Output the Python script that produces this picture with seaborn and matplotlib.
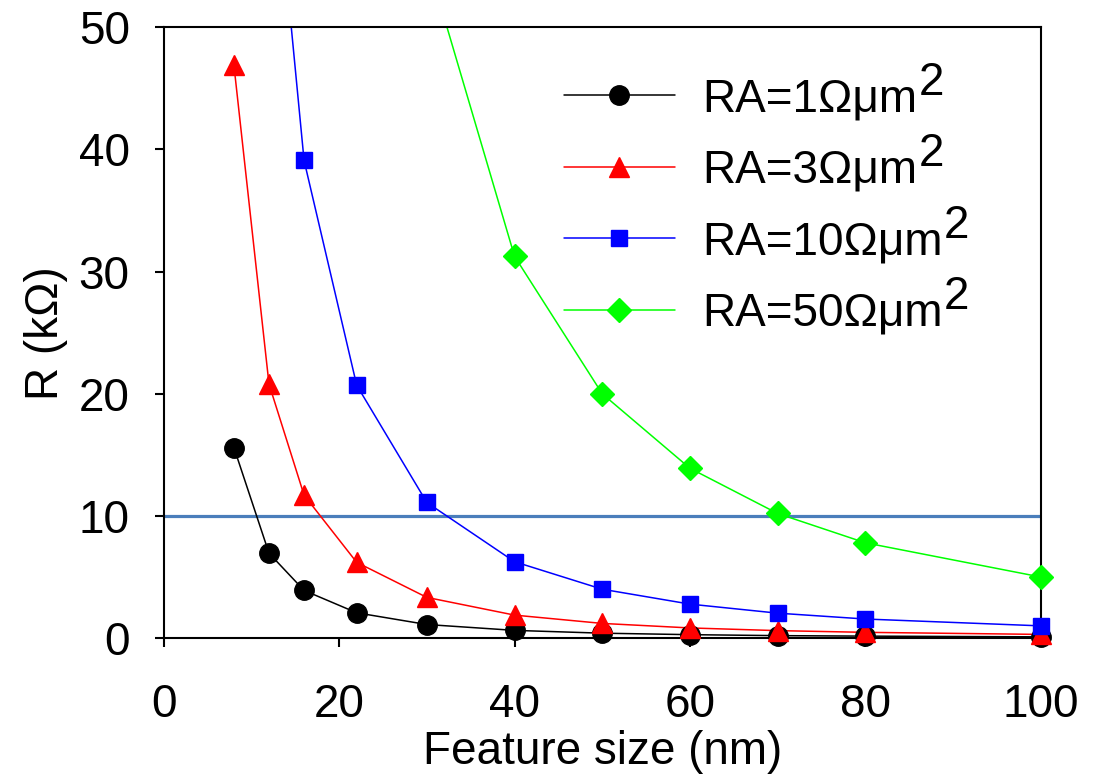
import numpy as np
import pandas as pd
import seaborn as sns
import matplotlib.pyplot as plt
from matplotlib.lines import Line2D
from matplotlib.transforms import offset_copy

# feature size (nm) and resistance (kOhm)
size_nm = [8, 12, 16, 22, 30, 40, 50, 60, 70, 80, 100]
r_ra1 = [15.6, 6.95, 3.9, 2.07, 1.11, 0.63, 0.40, 0.28, 0.20, 0.16, 0.10]
r_ra3 = [46.9, 20.8, 11.7, 6.2, 3.33, 1.88, 1.2, 0.83, 0.61, 0.47, 0.30]
r_ra10 = [156, 69, 39.1, 20.7, 11.1, 6.25, 4.0, 2.78, 2.04, 1.56, 1.0]
r_ra50 = [781, 347, 195, 103, 55.6, 31.25, 20.0, 13.9, 10.2, 7.8, 5.0]
labels = ["RA=1\u03a9\u03bcm", "RA=3\u03a9\u03bcm", "RA=10\u03a9\u03bcm", "RA=50\u03a9\u03bcm"]
threshold = 10

colors = ["#000000", "#ff0000", "#0000ff", "#00ff00"]
markers = ["o", "^", "s", "D"]
msizes = [14, 14, 12, 12.5]

rows = []
for lab, vals in zip(labels, [r_ra1, r_ra3, r_ra10, r_ra50]):
    for x, y in zip(size_nm, vals):
        rows.append({"size": x, "R": y, "RA": lab})
df = pd.DataFrame(rows)

sns.set_style("ticks")
plt.rcParams["font.family"] = ["Liberation Sans", "DejaVu Sans"]
plt.rcParams["text.color"] = "black"
plt.rcParams["axes.labelcolor"] = "black"

fig = plt.figure(figsize=(10.99, 7.81), dpi=100)
ax = fig.add_axes([0.149, 0.183, 0.798, 0.782])

ax.axhline(threshold, color="#4a7ebb", lw=2.3, zorder=1)

sns.lineplot(data=df, x="size", y="R", hue="RA", palette=colors,
             lw=1.1, legend=False, ax=ax, zorder=2)

# markers are not clipped at the frame in the original
for lab, c, m, ms in zip(labels, colors, markers, msizes):
    sub = df[(df["RA"] == lab) & (df["R"] <= 50)]
    ax.plot(sub["size"], sub["R"], ls="none", marker=m, color=c,
            markersize=ms, clip_on=False, zorder=3)

ax.set_xlim(0, 100)
ax.set_ylim(0, 50)
ax.set_xticks([0, 20, 40, 60, 80, 100])
ax.set_yticks([0, 10, 20, 30, 40, 50])
for s in ax.spines.values():
    s.set_linewidth(1.5)
    s.set_color("black")
ax.tick_params(axis="both", direction="out", length=6.5, width=1.5,
               labelsize=33, colors="black")
ax.tick_params(axis="x", pad=26)
ax.tick_params(axis="y", pad=18)
ax.set_xlabel("Feature size (nm)", fontsize=33, labelpad=2)
ax.set_ylabel("R (k\u03a9)", fontsize=33, labelpad=8)

handles = [Line2D([], [], color=c, lw=1.1, marker=m, markersize=ms)
           for c, m, ms in zip(colors, markers, msizes)]
leg = ax.legend(handles, labels, loc="upper left", bbox_to_anchor=(0.456, 0.918),
                frameon=False, fontsize=33, handlelength=2.42, handletextpad=0.6,
                labelspacing=0.6, borderpad=0, borderaxespad=0)

# full size raised "2" after each legend label
fig.canvas.draw()
for t in leg.get_texts():
    bb = t.get_window_extent()
    tr = offset_copy(fig.transFigure, fig=fig, x=bb.x1 / fig.dpi * 72 + 1,
                     y=bb.y0 / fig.dpi * 72 + 12, units="points")
    fig.text(0, 0, "2", fontsize=33, transform=tr, ha="left", va="bottom")

plt.savefig("out.png", dpi=100)
